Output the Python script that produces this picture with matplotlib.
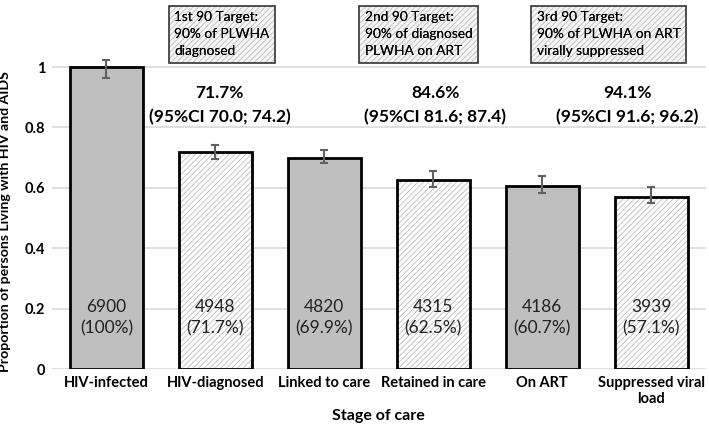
import matplotlib
matplotlib.use('Agg')
import matplotlib.pyplot as plt
import numpy as np

stages = ['HIV-infected', 'HIV-diagnosed', 'Linked to care', 'Retained in care',
          'On ART', 'Suppressed viral\nload']
props = [1.0, 0.717, 0.699, 0.625, 0.607, 0.571]
err_lo = [0.036, 0.020, 0.017, 0.023, 0.024, 0.022]
err_hi = [0.022, 0.026, 0.026, 0.030, 0.031, 0.033]
counts = ['6900', '4948', '4820', '4315', '4186', '3939']
pct_labels = ['(100%)', '(71.7%)', '(69.9%)', '(62.5%)', '(60.7%)', '(57.1%)']
hatched = [False, True, False, True, False, True]

targets = ['1st 90 Target:\n90% of PLWHA\ndiagnosed',
           '2nd 90 Target:\n90% of diagnosed\nPLWHA on ART',
           '3rd 90 Target:\n90% of PLWHA on ART\nvirally suppressed']
target_pos = [0.62, 2.37, 3.95]
results = ['71.7%', '84.6%', '94.1%']
result_ci = ['(95%CI 70.0; 74.2)', '(95%CI 81.6; 87.4)', '(95%CI 91.6; 96.2)']
result_pos = [1.04, 3.02, 4.78]

plt.rcParams['font.family'] = ['Lato', 'DejaVu Sans']
plt.rcParams['hatch.color'] = '#bdbdbd'
plt.rcParams['hatch.linewidth'] = 0.6

fig = plt.figure(figsize=(7.09, 4.24), dpi=100)
ax = fig.add_axes([0.0733, 0.1297, 0.922, 0.8703])

x = np.arange(len(stages))
w = 0.67
for i in x:
    if hatched[i]:
        ax.bar(i, props[i], w, color='white', hatch='//////', zorder=2)
    else:
        ax.bar(i, props[i], w, color='#bfbfbf', zorder=2)
ax.bar(x, props, w, fill=False, edgecolor='black', linewidth=2, zorder=3)
ax.errorbar(x, props, yerr=[err_lo, err_hi], fmt='none', ecolor='#606060',
            elinewidth=1.5, capsize=3, capthick=1.5, zorder=4)

for i in x:
    ax.text(i, 0.17, counts[i] + '\n' + pct_labels[i], ha='center', va='center',
            fontsize=12.5, color='#222222', linespacing=1.45, zorder=5)

for xi, r, c in zip(result_pos, results, result_ci):
    ax.text(xi, 0.914, r, ha='center', va='center', fontsize=12.5,
            fontweight='bold', color='black')
    ax.text(xi, 0.834, c, ha='center', va='center', fontsize=12.5,
            fontweight='bold', color='black')

for xi, t in zip(target_pos, targets):
    # hatched fill (edge in hatch colour, no visible border)
    ax.text(xi, 1.108, t, ha='left', va='center', fontsize=9.8, linespacing=1.5,
            color='black', bbox=dict(boxstyle='square,pad=0.4', facecolor='#f5f5f5',
                                     edgecolor='#bdbdbd', linewidth=0, hatch='//////'))
    # border on top
    ax.text(xi, 1.108, t, ha='left', va='center', fontsize=9.8, linespacing=1.5,
            color='black', bbox=dict(boxstyle='square,pad=0.4', facecolor='none',
                                     edgecolor='#333333', linewidth=1.2))

ax.set_xlim(-0.5, 5.5)
ax.set_ylim(0, 1.222)
ax.set_yticks([0, 0.2, 0.4, 0.6, 0.8, 1.0])
ax.set_yticklabels(['0', '0.2', '0.4', '0.6', '0.8', '1'])
ax.set_xticks(x)
ax.set_xticklabels(stages)
ax.tick_params(length=0, labelsize=10.5, pad=5)
for lab in ax.get_xticklabels() + ax.get_yticklabels():
    lab.set_fontweight('bold')
ax.yaxis.grid(True, color='#d9d9d9', linewidth=1.2, zorder=0)
ax.set_axisbelow(True)
for s in ax.spines.values():
    s.set_visible(False)

ax.set_xlabel('Stage of care', fontsize=11.5, fontweight='bold', labelpad=2)
ax.set_ylabel('Proportion of persons Living with HIV and AIDS', fontsize=10.2,
              fontweight='bold')
ax.yaxis.set_label_coords(-0.062, 0.40)

fig.savefig('out.png', dpi=100)
